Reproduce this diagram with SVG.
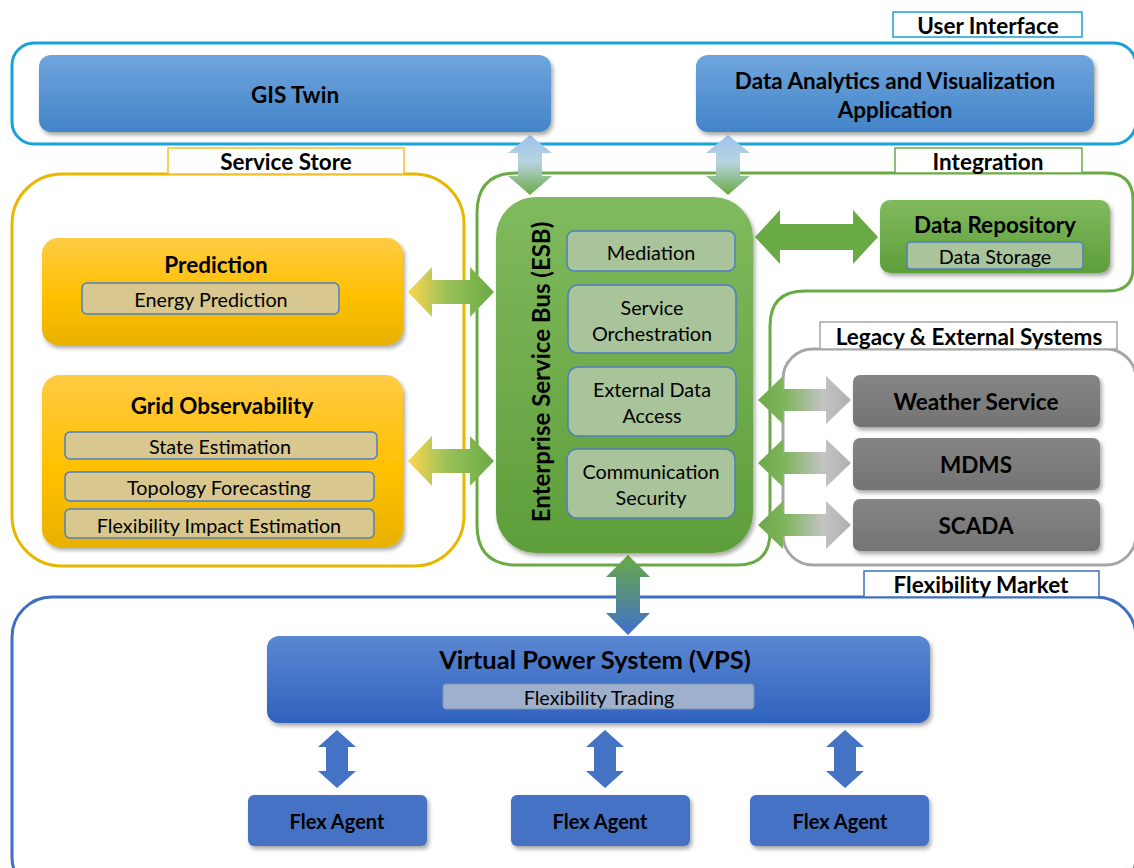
<svg xmlns="http://www.w3.org/2000/svg" width="1134" height="868" viewBox="0 0 1134 868">
<defs>
  <linearGradient id="gBlue" x1="0" y1="0" x2="0" y2="1"><stop offset="0" stop-color="#6FA5DD"/><stop offset="1" stop-color="#4384C8"/></linearGradient>
  <linearGradient id="gGold" x1="0" y1="0" x2="0" y2="1"><stop offset="0" stop-color="#FFCB44"/><stop offset="0.55" stop-color="#FFC000"/><stop offset="1" stop-color="#E8B100"/></linearGradient>
  <linearGradient id="gGreen" x1="0" y1="0" x2="0" y2="1"><stop offset="0" stop-color="#80BA5E"/><stop offset="1" stop-color="#5E9E3A"/></linearGradient>
  <linearGradient id="gGrey" x1="0" y1="0" x2="0" y2="1"><stop offset="0" stop-color="#858585"/><stop offset="1" stop-color="#747474"/></linearGradient>
  <linearGradient id="gVps" x1="0" y1="0" x2="0" y2="1"><stop offset="0" stop-color="#5B87D2"/><stop offset="1" stop-color="#2F62BD"/></linearGradient>
  <linearGradient id="aGoldGreen" x1="0" y1="0" x2="1" y2="0"><stop offset="0" stop-color="#FFD550"/><stop offset="0.45" stop-color="#9BC259"/><stop offset="1" stop-color="#6AAA45"/></linearGradient>
  <linearGradient id="aGreenGrey" x1="0" y1="0" x2="1" y2="0"><stop offset="0" stop-color="#6AAA45"/><stop offset="0.3" stop-color="#7FB55E"/><stop offset="0.7" stop-color="#C4C4C4"/><stop offset="1" stop-color="#AFAFAF"/></linearGradient>
  <linearGradient id="aBlueGreen" x1="0" y1="0" x2="0" y2="1"><stop offset="0" stop-color="#9DC3EA"/><stop offset="0.45" stop-color="#B8D3E0"/><stop offset="1" stop-color="#6AAA45"/></linearGradient>
  <linearGradient id="aGreenBlue" x1="0" y1="0" x2="0" y2="1"><stop offset="0" stop-color="#6AAA45"/><stop offset="1" stop-color="#4070CC"/></linearGradient>
  <filter id="sh" x="-10%" y="-10%" width="120%" height="130%"><feDropShadow dx="2" dy="3" stdDeviation="2" flood-color="#000" flood-opacity="0.35"/></filter>
</defs>
<style>
  text { font-family: Lato, "Liberation Sans", sans-serif; fill: #000; text-anchor: middle; dominant-baseline: central; }
  .t { font-weight: bold; font-size: 22.5px; }
  .lab { font-weight: bold; font-size: 22.5px; }
  .s { font-size: 19.8px; }
  .lbox { fill: #fff; stroke-width: 1.5; }
  .cont { fill: none; stroke-width: 3; }
  .subG { fill: #A9C49A; stroke: #4F7FBF; stroke-width: 1.5; }
  .subY { fill: #D8C88F; stroke: #4F7FBF; stroke-width: 1.5; }
</style>

<g id="containers">
  <rect id="ui-container" class="cont" x="12" y="43" width="1124" height="101" rx="22" stroke="#17A3D8"/>
  <rect id="ui-label-box" class="lbox" x="893" y="12" width="189" height="25" stroke="#17A3D8"/>
  <text class="lab" x="988" y="25">User Interface</text>

  <rect id="ss-container" class="cont" x="12" y="174" width="452" height="392" rx="50" stroke="#E8B700"/>
  <rect id="ss-label-box" class="lbox" x="168" y="148" width="236" height="26" stroke="#F2C12E"/>
  <text class="lab" x="286" y="161">Service Store</text>

  <path id="int-container" class="cont" stroke="#6AAA45" d="M517,173 H1105 Q1133,173 1133,200 V268 Q1133,291 1108,291 H805 Q770,291 770,326 V532 Q770,565 737,565 H517 Q477,565 477,525 V213 Q477,173 517,173 Z"/>
  <rect id="int-label-box" class="lbox" x="895" y="148" width="187" height="25" stroke="#6AAA45"/>
  <text class="lab" x="988" y="161">Integration</text>

  <rect id="leg-container" class="cont" x="783" y="349" width="353" height="216" rx="30" stroke="#A6A6A6"/>
  <rect id="leg-label-box" class="lbox" x="820" y="322" width="297" height="27" stroke="#A6A6A6"/>
  <text class="lab" x="969" y="336">Legacy &amp; External Systems</text>

  <rect id="fm-container" class="cont" x="12" y="597" width="1124" height="300" rx="40" stroke="#3E6FC0"/>
  <rect id="fm-label-box" class="lbox" x="864" y="571" width="235" height="26" stroke="#3E6FC0"/>
  <text class="lab" x="981" y="584">Flexibility Market</text>
</g>

<g id="connectors">
  <polygon fill="url(#aBlueGreen)" points="530,135 552,153 542,153 542,176 552,176 530,195 508,176 518,176 518,153 508,153"/>
  <polygon fill="url(#aBlueGreen)" points="728,135 750,153 740,153 740,176 750,176 728,195 706,176 716,176 716,153 706,153"/>
  <polygon fill="url(#aGoldGreen)" points="408,292 432,267 432,280 470,280 470,267 494,292 470,317 470,304 432,304 432,317"/>
  <polygon fill="url(#aGoldGreen)" points="408,461 432,436 432,449 470,449 470,436 494,461 470,486 470,473 432,473 432,486"/>
  <polygon fill="#6AAA45" points="755,237 780,210 780,224 853,224 853,210 878,237 853,264 853,250 780,250 780,264"/>
  <polygon fill="url(#aGreenGrey)" points="758,400 783,376 783,389 826,389 826,376 851,400 826,424 826,411 783,411 783,424"/>
  <polygon fill="url(#aGreenGrey)" points="758,463 783,439 783,452 826,452 826,439 851,463 826,487 826,474 783,474 783,487"/>
  <polygon fill="url(#aGreenGrey)" points="758,525 783,501 783,514 826,514 826,501 851,525 826,549 826,536 783,536 783,549"/>
  <polygon fill="url(#aGreenBlue)" points="628,555 650,577 640,577 640,613 650,613 628,635 606,613 616,613 616,577 606,577"/>
  <polygon fill="#4472C4" points="337,730 356,747 348,747 348,771 356,771 337,788 318,771 326,771 326,747 318,747"/>
  <polygon fill="#4472C4" points="605,730 624,747 616,747 616,771 624,771 605,788 586,771 594,771 594,747 586,747"/>
  <polygon fill="#4472C4" points="845,730 864,747 856,747 856,771 864,771 845,788 826,771 834,771 834,747 826,747"/>
</g>

<g id="gis-twin">
  <rect x="39" y="55" width="512" height="77" rx="12" fill="url(#gBlue)" filter="url(#sh)"/>
  <text class="t" x="295" y="94">GIS Twin</text>
</g>
<g id="data-analytics">
  <rect x="696" y="55" width="398" height="77" rx="12" fill="url(#gBlue)" filter="url(#sh)"/>
  <text class="t" x="895" y="80">Data Analytics and Visualization</text>
  <text class="t" x="895" y="109">Application</text>
</g>

<g id="prediction">
  <rect x="42" y="238" width="361" height="107" rx="16" fill="url(#gGold)" filter="url(#sh)"/>
  <text class="t" x="216" y="264">Prediction</text>
  <rect class="subY" x="82" y="283" width="257" height="31" rx="5"/>
  <text class="s" x="211" y="299">Energy Prediction</text>
</g>
<g id="grid-observability">
  <rect x="42" y="375" width="361" height="172" rx="18" fill="url(#gGold)" filter="url(#sh)"/>
  <text class="t" x="222" y="405">Grid Observability</text>
  <rect class="subY" x="65" y="432" width="312" height="27" rx="5"/>
  <text class="s" x="220" y="446">State Estimation</text>
  <rect class="subY" x="65" y="472" width="309" height="29" rx="5"/>
  <text class="s" x="219" y="487">Topology Forecasting</text>
  <rect class="subY" x="65" y="509" width="309" height="29" rx="5"/>
  <text class="s" x="219" y="525">Flexibility Impact Estimation</text>
</g>

<g id="esb">
  <rect x="496" y="197" width="257" height="356" rx="40" fill="url(#gGreen)" filter="url(#sh)"/>
  <text class="t" transform="translate(540,372) rotate(-90)" style="font-size:24px">Enterprise Service Bus (ESB)</text>
  <rect class="subG" x="567" y="231" width="168" height="40" rx="7"/>
  <text class="s" x="651" y="252">Mediation</text>
  <rect class="subG" x="568" y="285" width="168" height="68" rx="10"/>
  <text class="s" x="652" y="307">Service</text>
  <text class="s" x="652" y="333">Orchestration</text>
  <rect class="subG" x="568" y="367" width="168" height="69" rx="10"/>
  <text class="s" x="652" y="389">External Data</text>
  <text class="s" x="652" y="415">Access</text>
  <rect class="subG" x="567" y="449" width="168" height="69" rx="10"/>
  <text class="s" x="651" y="471">Communication</text>
  <text class="s" x="651" y="497">Security</text>
</g>

<g id="data-repository">
  <rect x="880" y="200" width="230" height="73" rx="10" fill="url(#gGreen)" filter="url(#sh)"/>
  <text class="t" x="995" y="224">Data Repository</text>
  <rect class="subG" x="907" y="242" width="176" height="27" rx="4"/>
  <text class="s" x="995" y="256">Data Storage</text>
</g>

<g id="weather-service">
  <rect x="853" y="375" width="247" height="52" rx="7" fill="url(#gGrey)" filter="url(#sh)"/>
  <text class="t" x="976" y="401">Weather Service</text>
</g>
<g id="mdms">
  <rect x="853" y="438" width="247" height="52" rx="7" fill="url(#gGrey)" filter="url(#sh)"/>
  <text class="t" x="976" y="464">MDMS</text>
</g>
<g id="scada">
  <rect x="853" y="499" width="247" height="52" rx="7" fill="url(#gGrey)" filter="url(#sh)"/>
  <text class="t" x="976" y="525">SCADA</text>
</g>

<g id="vps">
  <rect x="267" y="636" width="663" height="87" rx="12" fill="url(#gVps)" filter="url(#sh)"/>
  <text class="t" x="595" y="659" style="font-size:25.5px">Virtual Power System (VPS)</text>
  <rect x="443" y="684" width="311" height="25" rx="3" fill="#9FB0CC" stroke="#7F93B8" stroke-width="1"/>
  <text class="s" x="599" y="697">Flexibility Trading</text>
</g>

<g id="flex-agent-1">
  <rect x="248" y="795" width="179" height="51" rx="6" fill="#4472C4" filter="url(#sh)"/>
  <text class="t" x="337" y="821" style="font-size:20px">Flex Agent</text>
</g>
<g id="flex-agent-2">
  <rect x="511" y="795" width="179" height="51" rx="6" fill="#4472C4" filter="url(#sh)"/>
  <text class="t" x="600" y="821" style="font-size:20px">Flex Agent</text>
</g>
<g id="flex-agent-3">
  <rect x="750" y="795" width="179" height="51" rx="6" fill="#4472C4" filter="url(#sh)"/>
  <text class="t" x="840" y="821" style="font-size:20px">Flex Agent</text>
</g>
</svg>
